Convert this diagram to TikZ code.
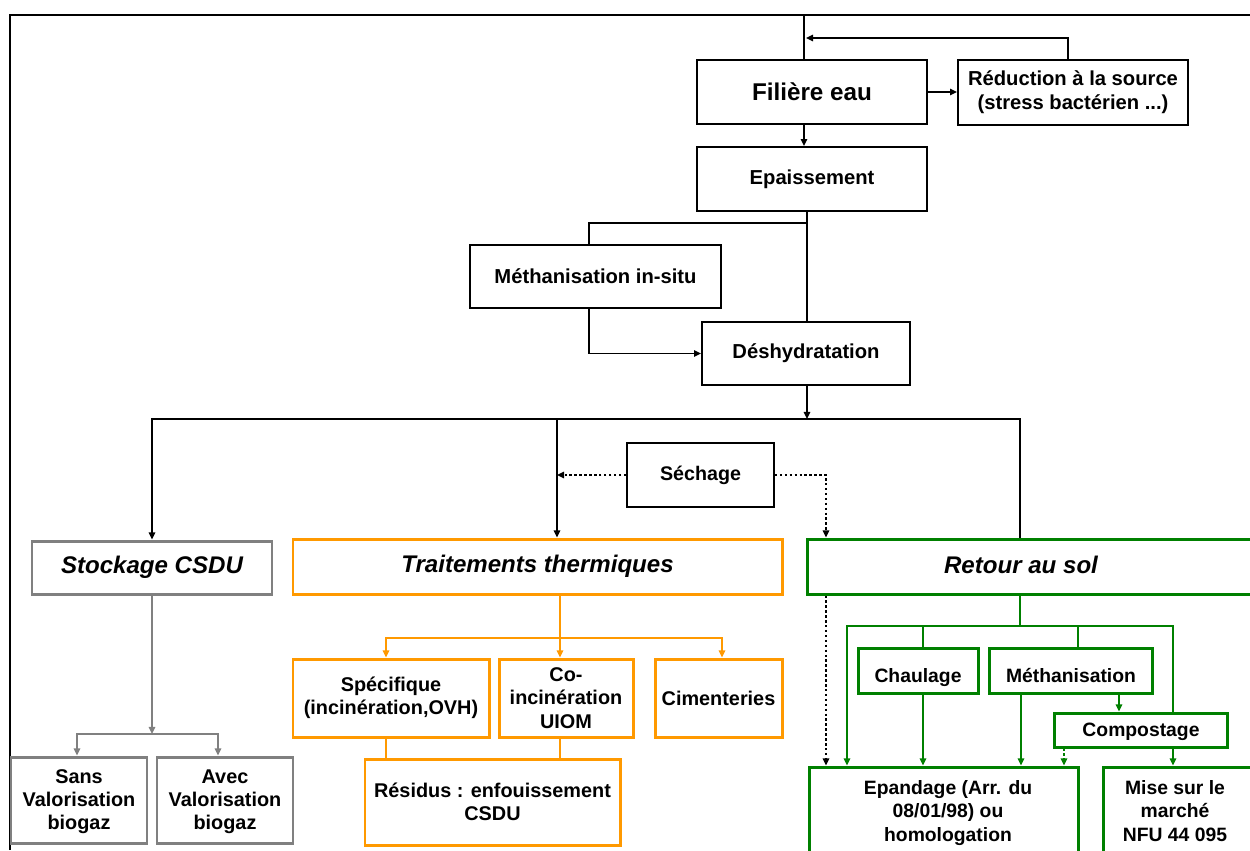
\documentclass[tikz,border=0pt]{standalone}
\usepackage{fontspec}
\setmainfont{Liberation Sans}
\usetikzlibrary{arrows.meta}
\definecolor{cgray}{RGB}{128,128,128}
\definecolor{corange}{RGB}{255,153,0}
\definecolor{cgreen}{RGB}{0,128,0}
\newcommand\boxnode[7]{\node[#1, minimum width={(#5-#3)*0.02cm}, minimum height={(#6-#4)*0.02cm}] (#2) at ({(#3+#5)/2},{(#4+#6)/2}) {#7};}
\begin{document}
\begin{tikzpicture}[x=0.02cm,y=-0.02cm,
  >={Triangle[length=4pt,width=3.6pt]},
  bbox/.style={draw=black, line width=1.1pt, inner sep=0pt, align=center,
    font=\fontsize{11.5pt}{13.5pt}\selectfont\bfseries},
  gbox/.style={draw=cgray, line width=1.7pt, inner sep=0pt, align=center,
    font=\fontsize{11.3pt}{13.2pt}\selectfont\bfseries},
  obox/.style={draw=corange, line width=1.7pt, inner sep=0pt, align=center,
    font=\fontsize{11.3pt}{13.2pt}\selectfont\bfseries},
  grbox/.style={draw=cgreen, line width=1.7pt, inner sep=0pt, align=center,
    font=\fontsize{11pt}{13.3pt}\selectfont\bfseries},
  grtext/.style={font=\fontsize{11pt}{13.3pt}\selectfont\bfseries, align=center, inner sep=0pt},
  gtext/.style={font=\fontsize{11.3pt}{13.2pt}\selectfont\bfseries, align=center, inner sep=0pt},
  head/.style={font=\fontsize{13.7pt}{16pt}\selectfont\bfseries\itshape},
  conn/.style={draw=black, line width=0.95pt},
  dotconn/.style={draw=black, line width=1.4pt, dash pattern=on 1.4pt off 1.4pt},
  gconn/.style={draw=cgray, line width=1.5pt},
  oconn/.style={draw=corange, line width=1.5pt},
  grconn/.style={draw=cgreen, line width=1.5pt},
  grdot/.style={draw=cgreen, line width=1.5pt, dash pattern=on 1.4pt off 1.4pt},
  framel/.style={draw=black, line width=1.1pt}
]
\useasboundingbox (0,0) rectangle (1250,850);
\fill[white] (0,0) rectangle (1250,850);
\draw[framel] (10,850) -- (10,15) -- (1250,15);

% top part
\boxnode{bbox, font=\fontsize{13.8pt}{16pt}\selectfont\bfseries}{fil}{697}{60}{927}{124}{Filière eau}
\boxnode{bbox}{red}{958}{60}{1188}{125}{Réduction à la source\\(stress bactérien ...)}
\boxnode{bbox}{epa}{697}{147}{927}{211}{Epaissement}
\boxnode{bbox}{met}{470}{245}{721}{308}{Méthanisation in-situ}
\boxnode{bbox}{des}{702}{322}{910}{385}{Déshydratation}
\boxnode{bbox, font=\fontsize{11.2pt}{13pt}\selectfont\bfseries}{sec}{627}{443}{774}{507}{Séchage}

% headings
\boxnode{gbox, head}{sto}{32}{541}{272}{594}{Stockage CSDU}
\boxnode{obox, head}{tra}{293}{539}{782}{594}{Traitements thermiques}
\boxnode{grbox}{ret}{807}{539}{1262}{594}{}
\node[head] (rett) at (1021,565) {Retour au sol};

% gray
\boxnode{gbox}{sans}{11}{757}{147}{843}{}
\node[gtext, anchor=north] (sanst) at (79,769) {Sans\\Valorisation\\biogaz};
\boxnode{gbox}{avec}{157}{757}{293}{843}{}
\node[gtext, anchor=north] (avect) at (225,769) {Avec\\Valorisation\\biogaz};

% orange
\boxnode{obox}{spe}{293}{659}{489}{737}{Spécifique\\(incinération,OVH)}
\boxnode{obox}{coi}{499}{659}{633}{737}{Co-\\incinération\\UIOM}
\boxnode{obox}{cim}{655}{659}{782}{737}{Cimenteries}
\boxnode{obox}{res}{365}{759}{620}{845}{Résidus : enfouissement\\CSDU}

% green
\boxnode{grbox}{cha}{858}{648}{978}{693}{}
\node[grtext, anchor=base] (chat) at (918,682) {Chaulage};
\boxnode{grbox}{mth}{989}{648}{1152}{693}{}
\node[grtext, anchor=base] (mtht) at (1071,682) {Méthanisation};
\boxnode{grbox}{com}{1054}{713}{1227}{747}{}
\node[grtext, anchor=base] (comt) at (1141,736) {Compostage};
\boxnode{grbox}{epd}{809}{767}{1078}{870}{}
\node[grtext, anchor=north] (epdt) at (948,780) {Epandage (Arr. du\\08/01/98) ou\\homologation};
\boxnode{grbox}{mis}{1103}{767}{1262}{870}{}
\node[grtext, anchor=north] (mist) at (1175,780) {Mise sur le\\marché\\NFU 44 095};

% coordinates
\coordinate (ctop) at (804,15);
\coordinate (fb) at (1068,38);
\coordinate (fbend) at (806,38);
\coordinate (cx) at (807,0);
\coordinate (br) at (807,223);
\coordinate (mx) at (589,0);
\coordinate (hb) at (807,419);
\coordinate (hl) at (152,419);
\coordinate (hr) at (1020,419);
\coordinate (hm) at (557,419);
\coordinate (dx) at (826,0);
\coordinate (gx) at (152,734);
\coordinate (sx) at (77,0);
\coordinate (ax) at (218,0);
\coordinate (ox) at (560,638);
\coordinate (osx) at (386,0);
\coordinate (ocx) at (722,0);
\coordinate (gt) at (1020,626);
\coordinate (g1) at (847,626);
\coordinate (g2) at (923,626);
\coordinate (g3) at (1078,626);
\coordinate (g4) at (1173,626);
\coordinate (g5) at (1021,0);
\coordinate (g6) at (1119,0);
\coordinate (g7) at (1064,0);

% black connectors
\draw[conn, line width=1.6pt] (ctop) -- (fil.north -| ctop);
\draw[conn, ->] (red.north -| fb) -- (fb) -- (fbend);
\draw[conn, ->] (fil.east) -- (red.west |- fil.east);
\draw[conn, ->] (fil.south -| ctop) -- (epa.north -| ctop);
\draw[conn] (epa.south -| cx) -- (des.north -| cx);
\draw[conn] (br) -| (met.north -| mx);
\draw[conn, ->] (met.south -| mx) |- (des.west);
\draw[conn, ->] (des.south -| cx) -- (hb);
\draw[conn, ->] (ret.north -| hr) |- (hl) -- (sto.north -| hl);
\draw[conn, ->] (hm) -- (tra.north -| hm);
\draw[dotconn, ->] (sec.west) -- (sec.west -| hm);
\draw[dotconn, ->] (sec.east) -| (ret.north -| dx);
\draw[dotconn, ->] (ret.south -| dx) -- (epd.north -| dx);

% gray connectors
\draw[gconn, ->] (sto.south -| gx) -- (gx);
\draw[gconn, <->] (sans.north -| sx) |- (gx) -| (avec.north -| ax);

% orange connectors
\draw[oconn, ->] (tra.south -| ox) -- (coi.north -| ox);
\draw[oconn, <->] (spe.north -| osx) |- (ox) -| (cim.north -| ocx);
\draw[oconn] (spe.south -| osx) -- (res.north -| osx);
\draw[oconn] (coi.south -| ox) -- (res.north -| ox);

% green connectors
\draw[grconn] (ret.south -| gt) -- (gt);
\draw[grconn, ->] (com.north -| g4) |- (g1) -- (epd.north -| g1);
\draw[grconn] (g2) -- (cha.north -| g2);
\draw[grconn] (g3) -- (mth.north -| g3);
\draw[grconn, ->] (cha.south -| g2) -- (epd.north -| g2);
\draw[grconn, ->] (mth.south -| g5) -- (epd.north -| g5);
\draw[grconn, ->] (mth.south -| g6) -- (com.north -| g6);
\draw[grdot, ->] (com.south -| g7) -- (epd.north -| g7);
\draw[grconn, ->] (com.south -| g4) -- (mis.north -| g4);
\end{tikzpicture}
\end{document}
